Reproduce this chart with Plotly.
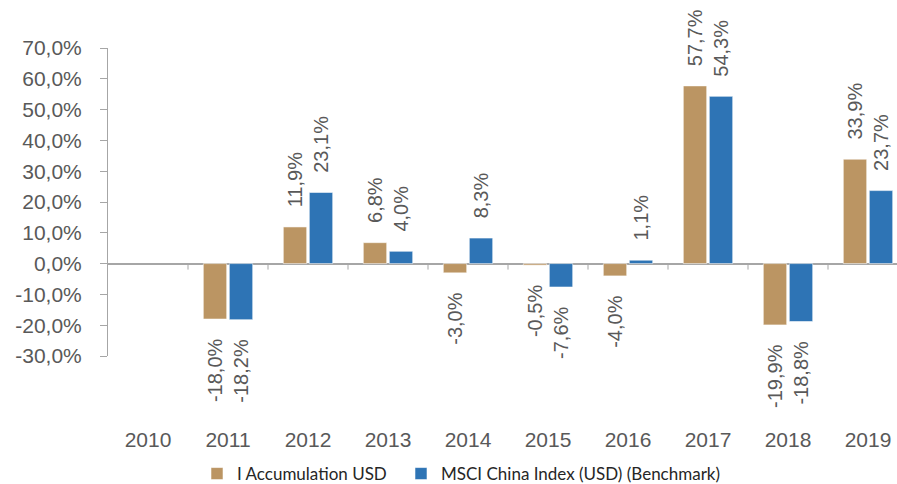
import plotly.graph_objects as go

years = ["2010", "2011", "2012", "2013", "2014", "2015", "2016", "2017", "2018", "2019"]
fund_values = [None, -18.0, 11.9, 6.8, -3.0, -0.5, -4.0, 57.7, -19.9, 33.9]
bench_values = [None, -18.2, 23.1, 4.0, 8.3, -7.6, 1.1, 54.3, -18.8, 23.7]
fund_name = "I Accumulation USD"
bench_name = "MSCI China Index (USD) (Benchmark)"
y_ticks = [-30, -20, -10, 0, 10, 20, 30, 40, 50, 60, 70]

GOLD = "#BB9563"
BLUE = "#2E74B5"
GRAY_TXT = "#595959"
AXIS = "#A6A6A6"
NB = "\u00a0"


def labels(vals):
    out = []
    for v in vals:
        if v is None:
            out.append("")
        else:
            s = f"{v:.1f}".replace(".", ",") + "%"
            out.append(NB * 3 + s if v >= 0 else s + NB * 3)
    return out


fig = go.Figure()
for name, vals, col, leg in [(fund_name, fund_values, GOLD, "legend"),
                             (bench_name, bench_values, BLUE, "legend2")]:
    fig.add_trace(go.Bar(
        x=years, y=vals, name=name, legend=leg,
        marker=dict(color=col, line=dict(color="rgba(255,255,255,0.55)", width=1)),
        text=labels(vals), textposition="outside", textangle=-90,
        textfont=dict(family="Liberation Sans, Arial, sans-serif", size=20, color=GRAY_TXT),
        constraintext="none", cliponaxis=False, hoverinfo="skip",
    ))

shapes = []
for i in range(len(years) - 1):
    shapes.append(dict(type="line", xref="x", yref="y", x0=i + 0.5, x1=i + 0.5,
                       ysizemode="pixel", yanchor=0, y0=0, y1=-6,
                       line=dict(color=AXIS, width=1)))

legend_font = dict(family="Lato, sans-serif", size=17, color="#262626")

fig.update_layout(
    width=897, height=484,
    margin=dict(l=108, r=0, t=48, b=128, autoexpand=False),
    paper_bgcolor="white", plot_bgcolor="white",
    separators=",.",
    barmode="group", bargap=0.35, bargroupgap=0.1,
    font=dict(family="Liberation Sans, Arial, sans-serif", color=GRAY_TXT),
    shapes=shapes,
    xaxis=dict(type="category", range=[-0.5, 9.3625], showline=False, ticks="",
               showgrid=False, zeroline=False, automargin=False,
               tickfont=dict(size=21, color=GRAY_TXT), ticklabelstandoff=69),
    yaxis=dict(range=[-30, 70], tickvals=y_ticks,
               ticktext=[f"{v:.1f}".replace(".", ",") + "%" for v in y_ticks],
               showgrid=False, showline=True, linecolor=AXIS, linewidth=1,
               ticks="outside", ticklen=7, tickcolor=AXIS, automargin=False,
               zeroline=True, zerolinecolor=AXIS, zerolinewidth=2,
               tickfont=dict(size=21, color=GRAY_TXT), ticklabelstandoff=14),
    legend=dict(orientation="h", xref="container", yref="container",
                x=197 / 897, xanchor="left", y=1 - 474 / 484, yanchor="middle",
                font=legend_font, itemclick=False, bgcolor="rgba(0,0,0,0)"),
    legend2=dict(orientation="h", xref="container", yref="container",
                 x=401 / 897, xanchor="left", y=1 - 474 / 484, yanchor="middle",
                 font=legend_font, itemclick=False, bgcolor="rgba(0,0,0,0)"),
    showlegend=True,
)

fig.write_html("out.html", config={"displayModeBar": False},
               post_script="document.body.style.margin='0';document.body.style.overflow='hidden';")
